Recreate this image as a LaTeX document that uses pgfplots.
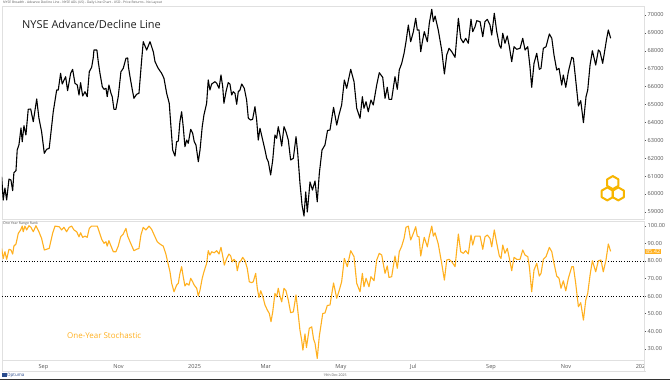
\documentclass[border=0pt]{standalone}
\usepackage{pgfplots}
\pgfplotsset{compat=1.18}
\usepackage{fontspec}
\setmainfont{Open Sans}
\definecolor{stoch}{HTML}{FFB01F}
\definecolor{logoor}{HTML}{F7B500}
\definecolor{tickgray}{HTML}{555555}
\definecolor{framegray}{HTML}{E0E0E0}
\definecolor{optblue}{HTML}{2A4B8D}
\begin{document}
\begin{tikzpicture}
\useasboundingbox (0bp,0bp) rectangle (670bp,380bp);
\fill[white] (0bp,0bp) rectangle (670bp,380bp);
% header
\node[anchor=west, font=\fontsize{3.3}{4}\selectfont, text=tickgray, inner sep=0pt] at (3bp,377.5bp) {NYSE Breadth - Advance Decline Line - NYSE ADL (US) - Daily Line Chart - USD - Price Returns - No Layout};

\begin{axis}[
 at={(2bp,161bp)}, anchor=south west, scale only axis,
 width=642bp, height=213bp,
 xmin=-28.5, xmax=495.1, ymin=58603, ymax=70503,
 xtick=\empty,
 ytick={59000,60000,...,70000},
 scaled y ticks=false,
 ytick pos=right, yticklabel pos=right,
 tick align=outside, major tick length=2bp,
 tick style={draw=tickgray, line width=0.4bp},
 yticklabel style={font=\fontsize{5.6}{6}\selectfont, text=tickgray, inner sep=0pt, anchor=west, xshift=1.5bp, /pgf/number format/.cd, fixed, 1000 sep={}},
 /pgf/number format/assume math mode=true,
 axis line style={draw=framegray, line width=0.6bp},
]
\addplot[black, line width=1.1bp, line join=round, mark=none] coordinates {
(-28.8,60966) (-27.5,59664) (-26.1,60334) (-24.7,59664) (-22.8,60837) (-21.2,60782) (-19.8,60184) (-18.8,61189) (-17.1,61301) (-16.1,62457) (-14.7,62737) (-13.0,63687) (-12.0,62921) (-10.6,63815) (-9.0,63296) (-7.1,64731) (-5.1,64748) (-3.0,64039) (-0.2,65307) (1.6,64245) (3.8,63480) (6.0,62273) (7.9,62497) (10.0,62553) (13.3,64597) (16.1,65810) (17.4,65810) (19.3,66743) (20.6,66145) (23.4,66553) (25.0,65771) (27.5,66743) (29.1,66966) (31.0,66184) (32.9,66089) (34.3,65530) (35.6,66218) (37.3,65475) (39.2,65715) (41.0,65436) (42.7,66832) (44.6,67078) (45.9,67598) (46.5,68045) (48.9,68045) (50.0,67391) (51.4,66743) (53.3,65994) (54.7,65849) (56.3,65905) (57.3,65436) (58.7,66089) (60.4,65625) (61.4,65436) (62.8,64731) (64.4,64731) (66.3,65436) (68.5,66832) (70.4,67022) (72.6,67581) (74.0,67598) (74.6,67112) (75.9,66553) (77.7,65849) (79.1,65346) (81.3,65570) (83.2,65625) (85.4,67486) (86.7,68508) (89.5,68045) (92.2,68508) (94.9,67950) (96.3,67391) (98.9,67022) (101.7,66743) (103.6,66463) (105.8,65625) (107.9,65067) (109.3,63759) (110.7,62457) (112.6,62122) (113.9,62921) (115.3,62960) (116.6,64039) (118.0,64597) (119.3,63759) (120.7,62642) (122.1,63016) (123.4,62832) (125.4,63614) (127.0,63391) (128.3,62921) (129.7,62737) (131.6,61804) (133.0,62457) (134.8,63759) (136.2,64413) (138.4,65067) (139.7,66368) (141.1,65810) (142.5,66145) (145.2,66274) (146.6,66184) (148.5,65905) (150.1,66648) (151.5,65994) (152.5,65067) (154.2,65715) (156.0,66218) (157.4,66145) (158.8,65530) (160.1,65715) (161.5,65625) (162.9,65011) (164.2,65715) (165.6,65810) (167.0,66145) (169.1,65905) (171.0,65251) (172.4,64229) (174.3,64134) (175.9,64173) (177.8,64877) (179.2,64134) (180.5,63016) (181.9,63670) (183.8,63111) (186.0,62457) (187.4,61994) (188.7,61804) (190.6,61061) (192.3,61899) (194.1,63296) (195.5,63111) (196.8,63759) (198.2,63296) (199.6,62681) (201.5,63759) (203.1,63480) (205.0,63016) (206.9,61899) (209.1,61994) (211.3,63201) (212.7,62273) (214.5,60614) (216.2,59385) (217.8,58770) (219.2,60111) (220.5,58994) (222.7,60670) (224.7,60223) (226.8,60726) (228.6,59569) (230.3,61156) (232.5,62457) (234.9,62737) (237.0,63547) (239.0,63575) (241.9,64843) (244.5,63854) (246.3,64413) (248.5,64972) (250.7,66368) (252.6,65905) (255.9,66966) (258.6,66274) (260.8,64787) (263.5,64229) (265.4,65436) (266.7,64787) (268.4,65156) (270.2,64597) (272.4,65251) (274.3,64972) (277.1,66089) (279.2,66776) (282.0,66519) (283.9,65346) (285.7,65961) (287.1,65290) (289.3,65290) (292.0,66553) (293.9,65849) (295.5,66927) (297.5,67301) (299.4,67860) (301.0,68508) (302.9,69441) (304.8,68508) (307.0,69067) (308.9,69816) (310.2,69162) (311.6,69162) (313.0,67950) (314.6,68603) (315.9,69067) (318.4,68508) (320.0,69536) (322.0,70318) (323.3,69626) (324.7,69944) (327.3,69162) (330.1,68045) (332.3,66704) (334.2,67765) (336.1,68140) (338.3,67950) (341.0,67637) (343.7,69816) (345.6,68698) (347.7,68452) (349.7,68698) (351.8,68419) (354.0,69760) (355.4,69067) (357.3,69346) (358.7,69682) (361.4,69626) (363.6,68788) (365.4,69626) (367.3,69760) (369.5,69441) (370.9,68883) (373.0,70095) (375.0,69067) (377.1,68324) (378.5,68140) (379.9,68978) (381.7,68419) (383.6,68827) (385.3,68229) (387.2,67391) (389.1,68229) (391.3,68084) (394.0,68140) (396.2,68698) (398.1,68045) (400.3,68229) (402.1,67112) (403.5,65961) (405.4,67301) (407.6,67860) (409.7,66966) (411.1,67022) (413.0,68140) (415.2,68229) (417.9,68938) (419.9,68698) (421.7,67765) (423.9,66927) (425.8,67022) (428.0,66089) (429.3,66648) (431.3,65961) (433.4,66832) (436.2,67637) (437.5,67581) (439.4,66368) (441.6,64916) (443.5,65212) (445.7,63983) (447.8,65436) (449.2,65810) (451.1,67207) (453.0,68005) (455.7,67207) (457.9,68045) (459.2,67950) (461.4,67301) (464.7,68698) (466.0,69162) (467.9,68698)
};
\end{axis}

\node[anchor=west, font=\fontsize{11}{13}\selectfont, text=black!88, inner sep=0pt] at (22bp,356bp) {NYSE Advance/Decline Line};

% logo
\foreach \cx/\cy in {607.3/186.1, 618.3/186.1, 612.8/197.4}{
  \draw[logoor, line width=2bp, line join=round] (\cx bp,\cy bp) +(90:6.5bp) -- +(150:6.5bp) -- +(210:6.5bp) -- +(270:6.5bp) -- +(330:6.5bp) -- +(30:6.5bp) -- cycle;
}

\begin{axis}[
 at={(2bp,20bp)}, anchor=south west, scale only axis,
 width=642bp, height=139bp,
 xmin=-28.5, xmax=495.1, ymin=23.6, ymax=102.7,
 xtick={0,61,122,181,242,303,365,426,487},
 xticklabels={Sep,Nov,2025,Mar,May,Jul,Sep,Nov,202},
 x tick style={draw=none},
 xticklabel style={font=\fontsize{5.6}{6}\selectfont, text=tickgray, inner sep=0pt, anchor=north west, xshift=1.5bp, yshift=-2.5bp},
 ytick={30,40,...,100},
 ytick pos=right, yticklabel pos=right,
 tick align=outside, major tick length=2bp,
 y tick style={draw=tickgray, line width=0.4bp},
 yticklabel style={font=\fontsize{5.6}{6}\selectfont, text=tickgray, inner sep=0pt, anchor=west, xshift=1.5bp, /pgf/number format/.cd, fixed, fixed zerofill, precision=2},
 /pgf/number format/assume math mode=true,
 axis line style={draw=framegray, line width=0.6bp},
]
\addplot[black, dotted, line width=0.7bp, mark=none] coordinates {(-28.5,80) (495.1,80)};
\addplot[black, dotted, line width=0.7bp, mark=none] coordinates {(-28.5,60) (495.1,60)};
\addplot[stoch, line width=1.1bp, line join=round, mark=none] coordinates {
(-28.8,87.1) (-27.5,81.4) (-26.1,85.2) (-24.7,80.9) (-22.8,86.6) (-21.2,86.2) (-19.8,83.9) (-18.8,88.4) (-17.1,89.6) (-15.2,95.7) (-13.3,97.6) (-12.0,99.8) (-11.2,96.6) (-9.8,99.8) (-8.4,97.6) (-6.5,100) (-4.9,99.1) (-3.0,96.6) (-0.8,100) (1.6,96.6) (3.8,92.8) (6.0,86.2) (7.9,86.6) (10.0,87.1) (12.8,95.7) (14.7,99.8) (18.2,99.4) (20.1,97.6) (22.0,99.1) (24.2,96.6) (26.3,99.1) (28.3,99.8) (30.2,97.6) (32.4,96.6) (34.3,93.7) (35.6,96.0) (37.3,93.4) (39.2,94.1) (41.0,93.4) (42.7,98.5) (44.6,99.8) (49.2,99.8) (50.8,96.6) (52.8,92.3) (54.7,90.0) (56.3,90.9) (57.3,88.4) (58.7,91.5) (60.4,88.4) (62.3,85.2) (64.4,85.2) (66.3,88.4) (68.3,93.7) (70.4,95.3) (72.6,98.5) (74.0,94.1) (75.9,90.9) (77.7,88.0) (79.1,85.8) (81.3,86.6) (83.2,87.1) (84.8,94.7) (86.7,99.1) (88.9,97.6) (91.4,99.8) (93.5,98.0) (96.3,93.7) (98.1,90.9) (100.3,89.6) (103.0,88.4) (105.0,84.3) (106.6,79.5) (108.5,73.8) (109.9,67.2) (111.8,62.4) (113.9,66.2) (115.3,67.2) (116.6,72.9) (118.0,76.7) (119.3,71.0) (120.7,65.7) (122.1,67.2) (124.0,66.2) (125.4,70.1) (127.0,68.1) (128.3,66.2) (130.3,64.4) (131.6,60.0) (133.0,63.4) (134.8,70.1) (136.2,73.8) (138.4,78.6) (139.7,85.8) (141.1,83.3) (142.5,85.2) (144.6,84.6) (146.6,85.8) (148.5,83.9) (150.1,87.7) (151.5,82.8) (152.8,77.6) (154.8,81.4) (156.6,83.9) (158.0,82.8) (159.3,79.5) (160.7,80.9) (162.3,79.5) (163.4,74.4) (164.8,78.9) (166.4,80.1) (167.8,82.0) (169.7,80.1) (171.5,75.8) (173.2,68.1) (175.1,67.6) (176.4,68.1) (178.4,72.9) (179.7,64.4) (181.1,59.2) (182.5,63.0) (184.1,60.0) (186.0,54.9) (187.9,52.0) (189.5,50.1) (190.9,45.4) (192.3,51.0) (194.1,61.5) (195.5,59.6) (196.8,64.4) (198.2,60.0) (199.6,56.7) (201.5,64.4) (203.1,63.0) (205.0,57.7) (206.9,50.5) (209.1,51.0) (211.3,60.6) (212.7,52.0) (214.5,40.6) (215.9,34.9) (216.9,29.2) (218.6,38.4) (219.8,30.7) (222.1,41.6) (224.1,42.5) (225.6,35.5) (226.8,33.1) (228.6,24.5) (230.3,37.2) (233.1,50.1) (234.9,50.3) (236.8,54.6) (239.0,54.9) (241.9,67.4) (244.5,58.7) (246.6,63.4) (248.5,68.1) (250.7,81.4) (253.1,76.7) (255.9,85.8) (258.6,82.4) (260.8,67.2) (263.5,62.4) (265.4,72.9) (266.7,65.3) (268.4,70.1) (270.8,65.3) (272.4,71.0) (274.9,68.7) (277.1,80.5) (279.2,84.3) (281.2,83.3) (283.9,72.9) (285.7,77.1) (287.1,70.6) (289.3,71.0) (292.0,82.8) (293.9,75.8) (295.5,85.2) (297.5,88.4) (299.4,92.8) (301.0,99.1) (302.9,99.8) (304.8,91.9) (307.0,95.7) (308.9,99.4) (310.2,94.1) (311.6,93.7) (313.0,82.8) (314.6,89.0) (315.9,93.4) (318.4,88.0) (320.0,94.1) (322.0,99.8) (323.3,94.1) (324.7,96.0) (327.3,89.6) (330.1,78.6) (332.3,69.1) (334.2,80.5) (336.1,80.9) (338.3,79.5) (341.0,76.7) (343.7,95.3) (345.6,85.2) (347.7,84.3) (349.7,85.8) (351.8,83.9) (354.0,94.7) (355.4,89.0) (357.3,94.1) (359.2,94.1) (361.4,94.1) (363.6,86.6) (365.4,93.7) (367.3,94.7) (369.5,92.8) (370.9,88.0) (373.0,97.6) (375.0,90.0) (377.1,82.8) (378.5,81.4) (379.9,89.0) (381.7,84.3) (383.6,87.1) (385.3,81.4) (387.2,74.4) (389.1,82.0) (391.3,80.9) (394.0,80.9) (396.2,86.2) (398.1,83.3) (400.3,82.4) (401.6,76.7) (403.5,62.4) (405.4,74.8) (407.6,78.6) (409.7,71.4) (411.1,72.9) (413.0,80.9) (415.2,82.4) (417.9,87.7) (419.9,85.2) (421.7,78.6) (423.9,71.4) (425.8,70.1) (427.4,64.4) (429.3,68.7) (431.3,63.0) (433.4,70.1) (436.2,76.7) (437.5,76.7) (439.4,67.2) (441.6,53.9) (443.5,56.2) (445.7,46.3) (447.6,57.7) (449.2,61.5) (451.1,71.9) (453.0,80.1) (455.7,73.8) (457.9,80.1) (460.0,80.5) (461.9,73.8) (464.1,80.5) (466.0,89.6) (467.9,85.42)
};
\coordinate (lastval) at (axis cs:495.1,85.42);
\end{axis}

\node[anchor=west, fill=stoch, text=white, font=\fontsize{5.6}{6}\selectfont, inner sep=0.8bp, xshift=1bp] at (lastval) {85.42};
\node[anchor=west, font=\fontsize{3.5}{4}\selectfont, text=tickgray, inner sep=0pt] at (3bp,156bp) {One Year Range Rank};
\node[anchor=west, font=\fontsize{8}{10}\selectfont, text=stoch, inner sep=0pt] at (67bp,44bp) {One-Year Stochastic};

% x band and footer
\draw[framegray, line width=0.6bp] (2bp,9bp) -- (646bp,9bp);
\draw[framegray, line width=0.6bp] (644bp,9bp) -- (644bp,20bp);
\draw[framegray, line width=0.6bp] (2bp,9bp) -- (2bp,20bp);
\fill[optblue] (2bp,2.8bp) rectangle (6.5bp,7.3bp);
\node[anchor=west, font=\fontsize{4.5}{5}\selectfont, text=optblue, inner sep=0pt] at (7bp,5bp) {Optuma};
\node[font=\fontsize{3.5}{4}\selectfont, text=tickgray, inner sep=0pt] at (335bp,5bp) {19th Dec 2025};
\fill[black!80] (0bp,0bp) rectangle (670bp,1.3bp);
\end{tikzpicture}
\end{document}
